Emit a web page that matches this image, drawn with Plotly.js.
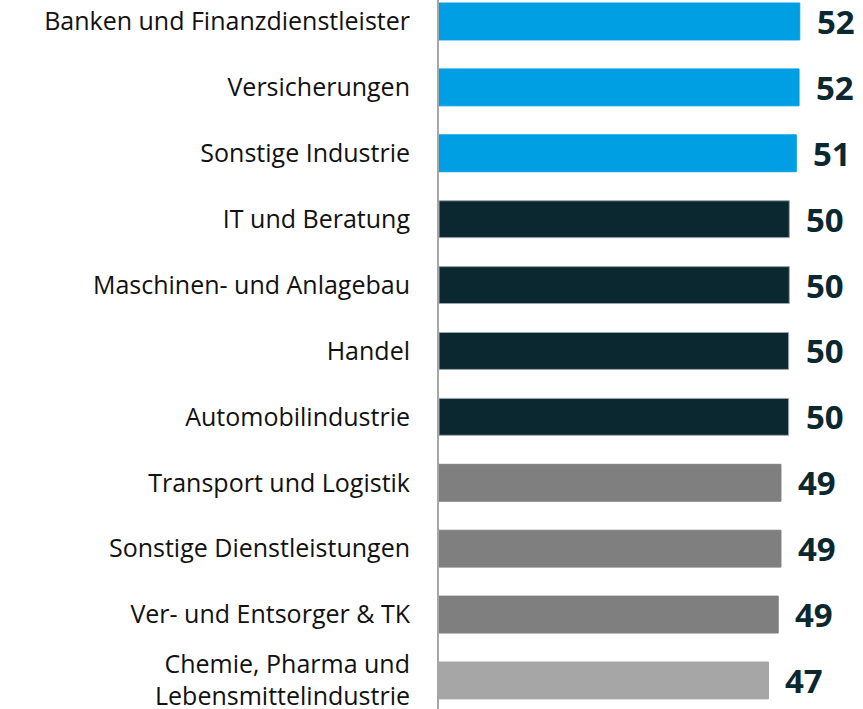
<!DOCTYPE html>
<html>
<head>
<meta charset="utf-8">
<script src="https://cdn.plot.ly/plotly-3.0.1.min.js"></script>
<style>html,body{margin:0;padding:0;background:#fff;}#chart{width:863px;height:709px;}</style>
</head>
<body>
<div id="chart"></div>
<script>
const categories = [
  "Banken und Finanzdienstleister",
  "Versicherungen",
  "Sonstige Industrie",
  "IT und Beratung",
  "Maschinen- und Anlagebau",
  "Handel",
  "Automobilindustrie",
  "Transport und Logistik",
  "Sonstige Dienstleistungen",
  "Ver- und Entsorger & TK",
  "Chemie, Pharma und<br>Lebensmittelindustrie"
];
const values = [51.9, 51.8, 51.4, 50.4, 50.4, 50.3, 50.3, 49.2, 49.2, 48.8, 47.4];
const valueLabels = ["52", "52", "51", "50", "50", "50", "50", "49", "49", "49", "47"];
const barColors = ["#009fe3", "#009fe3", "#009fe3", "#0b2730", "#0b2730", "#0b2730", "#0b2730", "#7f7f7f", "#7f7f7f", "#7f7f7f", "#a6a6a6"];
const lineColors = ["#009fe3", "#009fe3", "#009fe3", "#9aa8ad", "#9aa8ad", "#9aa8ad", "#9aa8ad", "#7f7f7f", "#7f7f7f", "#7f7f7f", "#a6a6a6"];

const trace = {
  type: "bar",
  orientation: "h",
  x: values,
  y: categories,
  width: 0.56,
  marker: { color: barColors, line: { color: lineColors, width: 1 } },
  hoverinfo: "none"
};

const annotations = categories.map((c, i) => ({
  x: values[i], y: c, xref: "x", yref: "y",
  text: valueLabels[i], showarrow: false,
  xanchor: "left", yanchor: "middle", xshift: 15,
  font: { family: "Open Sans, sans-serif", size: 33, color: "#0b2730", weight: 700 }
}));

const layout = {
  width: 863, height: 709,
  margin: { l: 439, r: 0, t: 0, b: 0, pad: 0 },
  paper_bgcolor: "#fff", plot_bgcolor: "#fff",
  showlegend: false,
  xaxis: { range: [0, 61], visible: false, fixedrange: true },
  yaxis: {
    type: "category",
    range: [10.433, -0.326],
    automargin: false,
    showline: true, linecolor: "#a6a6a6", linewidth: 2,
    showgrid: false, zeroline: false,
    ticks: "", ticklabelstandoff: 22,
    tickfont: { family: "Open Sans, sans-serif", size: 25, color: "#111" }
  },
  annotations: annotations
};

Plotly.newPlot("chart", [trace], layout, { staticPlot: true, displayModeBar: false });
</script>
</body>
</html>
